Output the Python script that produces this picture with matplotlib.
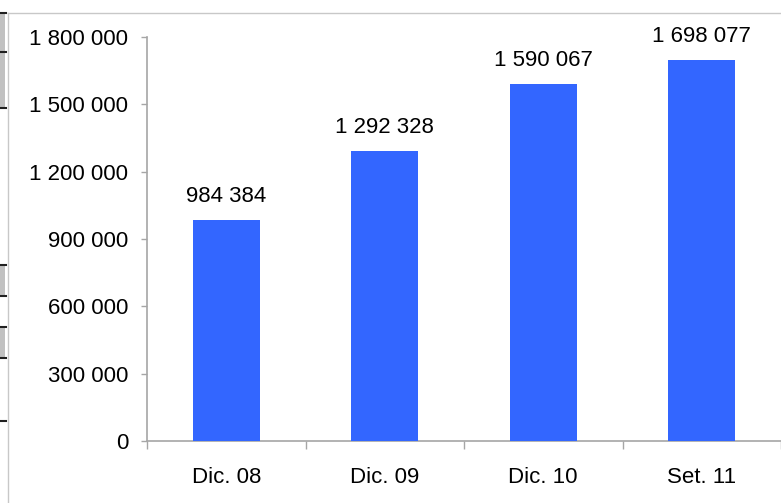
import numpy as np
import matplotlib.pyplot as plt
from matplotlib.patches import Rectangle
from matplotlib.lines import Line2D

plt.rcParams['font.family'] = ['Liberation Sans', 'DejaVu Sans']

# Data
categories = ["Dic. 08", "Dic. 09", "Dic. 10", "Set. 11"]
values = [984384, 1292328, 1590067, 1698077]
y_ticks = [0, 300000, 600000, 900000, 1200000, 1500000, 1800000]

bar_color = "#3366FF"
axis_color = "#A6A6A6"
text_color = "#000000"
fs = 16


def fmt(v):
    return "{:,}".format(v).replace(",", " ")


fig = plt.figure(figsize=(7.81, 5.03), dpi=100)
ax = fig.add_axes([147 / 781, 62 / 503, 1 - 147 / 781, (441 - 37) / 503])

x = np.arange(len(categories))
bars = ax.bar(x, values, width=0.42, color=bar_color, zorder=3)

for xi, v in zip(x, values):
    ax.annotate(fmt(v), (xi, v), xytext=(0, 9.5), textcoords="offset points",
                ha="center", va="bottom", fontsize=fs, color=text_color)

ax.set_ylim(0, 1800000)
ax.set_xlim(-0.5, 3.475)

ax.set_yticks(y_ticks)
ax.set_yticklabels([fmt(t) for t in y_ticks], fontsize=fs, color=text_color)
ax.tick_params(axis="y", length=4.5, width=1, color=axis_color, pad=9)

# category boundaries as major ticks, labels on minor ticks at centres
ax.set_xticks(np.arange(-0.5, len(categories), 1.0))
ax.set_xticklabels([])
ax.set_xticks(x, minor=True)
ax.set_xticklabels(categories, minor=True, fontsize=fs, color=text_color)
ax.tick_params(axis="x", which="major", length=6, width=1, color=axis_color)
ax.tick_params(axis="x", which="minor", length=0, pad=19)

for side in ["top", "right"]:
    ax.spines[side].set_visible(False)
for side in ["left", "bottom"]:
    ax.spines[side].set_color(axis_color)
    ax.spines[side].set_linewidth(1.2)

# chart-area border and spreadsheet leftovers on the left edge
fig.add_artist(Line2D([8 / 781, 1], [1 - 13 / 503, 1 - 13 / 503],
                      transform=fig.transFigure, color="#C8C8C8", lw=1))
fig.add_artist(Line2D([8 / 781, 8 / 781], [0, 1 - 13 / 503],
                      transform=fig.transFigure, color="#C8C8C8", lw=1))
for y0, y1 in [(13, 108), (265, 296), (327, 358)]:
    fig.add_artist(Rectangle((0, 1 - y1 / 503), 5 / 781, (y1 - y0) / 503,
                             transform=fig.transFigure, color="#C0C0C0", lw=0))
for yy in [13, 52, 108, 265, 296, 327, 358, 421]:
    fig.add_artist(Line2D([0, 6 / 781], [1 - yy / 503, 1 - yy / 503],
                          transform=fig.transFigure, color="#202020", lw=1.5))

fig.savefig("out.png", dpi=100)
